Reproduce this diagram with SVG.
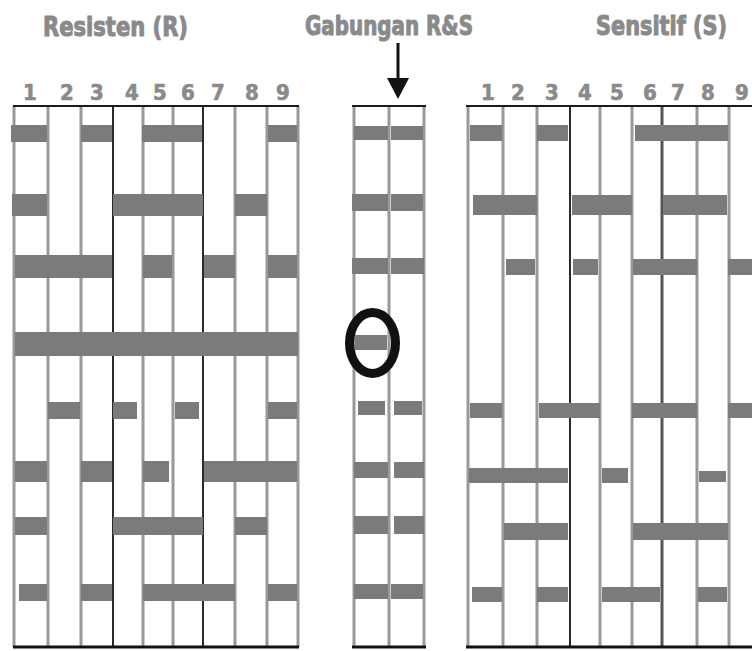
<svg xmlns="http://www.w3.org/2000/svg" width="752" height="651" viewBox="0 0 752 651">
<style>
.bg{fill:#fff}
.lane{stroke:#999;stroke-width:3;fill:none}
.div{stroke:#2a2a2a;stroke-width:2;fill:none}
.edge{stroke:#1a1a1a;stroke-width:2;fill:none}
.bot{stroke:#111;stroke-width:3;fill:none}
.band{fill:#7b7b7b}
.title{font-family:"DejaVu Sans Condensed","Liberation Sans Narrow","Liberation Sans",sans-serif;font-weight:bold;fill:#8a8a8a;stroke:#8a8a8a;stroke-width:1;font-size:26px}
.num{font-family:"DejaVu Sans Condensed","Liberation Sans Narrow","Liberation Sans",sans-serif;font-weight:bold;fill:#8a8a8a;stroke:#8a8a8a;stroke-width:0.6;font-size:22px;text-anchor:middle}
</style>
<rect class="bg" x="0" y="0" width="752" height="651"/>

<g id="titles">
<text class="title" x="43" y="36" textLength="145" lengthAdjust="spacingAndGlyphs">Resisten (R)</text>
<text class="title" x="305" y="35" textLength="168" lengthAdjust="spacingAndGlyphs">Gabungan R&amp;S</text>
<text class="title" x="596" y="35" textLength="131" lengthAdjust="spacingAndGlyphs">Sensitif (S)</text>
</g>

<g id="gel-resisten">
<g class="nums">
<text class="num" x="30" y="100">1</text><text class="num" x="67" y="100">2</text><text class="num" x="97" y="100">3</text>
<text class="num" x="132" y="100">4</text><text class="num" x="160" y="100">5</text><text class="num" x="188" y="100">6</text>
<text class="num" x="218" y="100">7</text><text class="num" x="252" y="100">8</text><text class="num" x="283" y="100">9</text>
</g>
<path class="lane" d="M14 106V647M48 106V647M81 106V647M143 106V647M173 106V647M235 106V647M267 106V647M298 106V647"/>
<path class="div" d="M113 106V647M203 106V647"/>
<path class="edge" d="M13 106H299"/>
<path class="bot" d="M13 647H299"/>
<g class="bands">
<rect class="band" x="11" y="125" width="36" height="17"/><rect class="band" x="81" y="125" width="31" height="17"/><rect class="band" x="142" y="125" width="60" height="17"/><rect class="band" x="268" y="125" width="29" height="17"/>
<rect class="band" x="12" y="194" width="35" height="22"/><rect class="band" x="113" y="194" width="90" height="22"/><rect class="band" x="235" y="194" width="32" height="22"/>
<rect class="band" x="15" y="255" width="97" height="23"/><rect class="band" x="143" y="255" width="29" height="23"/><rect class="band" x="204" y="255" width="31" height="23"/><rect class="band" x="268" y="255" width="29" height="23"/>
<rect class="band" x="15" y="332" width="283" height="24"/>
<rect class="band" x="48" y="402" width="32" height="17"/><rect class="band" x="113" y="402" width="24" height="17"/><rect class="band" x="175" y="402" width="24" height="17"/><rect class="band" x="268" y="402" width="29" height="17"/>
<rect class="band" x="15" y="461" width="32" height="21"/><rect class="band" x="81" y="461" width="31" height="21"/><rect class="band" x="143" y="461" width="26" height="21"/><rect class="band" x="204" y="461" width="93" height="21"/>
<rect class="band" x="15" y="517" width="32" height="18"/><rect class="band" x="113" y="517" width="90" height="18"/><rect class="band" x="235" y="517" width="32" height="18"/>
<rect class="band" x="19" y="584" width="28" height="17"/><rect class="band" x="81" y="584" width="31" height="17"/><rect class="band" x="143" y="584" width="92" height="17"/><rect class="band" x="268" y="584" width="29" height="17"/>
</g>
</g>

<g id="gel-gabungan">
<path class="lane" d="M354 106V647M389 106V647M424 106V647"/>
<path class="edge" d="M352 106H426"/>
<path class="bot" d="M352 647H426"/>
<g class="bands">
<rect class="band" x="354" y="126" width="34" height="14"/><rect class="band" x="391" y="126" width="32" height="14"/>
<rect class="band" x="352" y="194" width="36" height="17"/><rect class="band" x="391" y="194" width="32" height="17"/>
<rect class="band" x="352" y="258" width="36" height="16"/><rect class="band" x="391" y="258" width="33" height="16"/>
<rect class="band" x="355" y="335" width="32" height="15"/>
<rect class="band" x="358" y="401" width="27" height="14"/><rect class="band" x="394" y="401" width="28" height="14"/>
<rect class="band" x="354" y="462" width="34" height="16"/><rect class="band" x="394" y="462" width="30" height="16"/>
<rect class="band" x="354" y="516" width="34" height="18"/><rect class="band" x="394" y="516" width="30" height="18"/>
<rect class="band" x="354" y="584" width="34" height="15"/><rect class="band" x="391" y="584" width="32" height="15"/>
</g>
</g>

<g id="gel-sensitif">
<g class="nums">
<text class="num" x="488" y="100">1</text><text class="num" x="518" y="100">2</text><text class="num" x="552" y="100">3</text>
<text class="num" x="585" y="100">4</text><text class="num" x="617" y="100">5</text><text class="num" x="650" y="100">6</text>
<text class="num" x="678" y="100">7</text><text class="num" x="708" y="100">8</text><text class="num" x="742" y="100">9</text>
</g>
<path class="lane" d="M468 106V647M503 106V647M537 106V647M600 106V647M632 106V647M697 106V647M729 106V647"/>
<path class="div" d="M570 106V647"/>
<path class="lane" style="stroke:#555" d="M662 106V647"/>
<path class="edge" d="M466 106H752"/>
<path class="bot" d="M466 647H752"/>
<g class="bands">
<rect class="band" x="470" y="125" width="32" height="16"/><rect class="band" x="537" y="125" width="31" height="16"/><rect class="band" x="635" y="125" width="93" height="16"/>
<rect class="band" x="473" y="195" width="64" height="20"/><rect class="band" x="572" y="195" width="60" height="20"/><rect class="band" x="663" y="195" width="64" height="20"/>
<rect class="band" x="506" y="259" width="29" height="16"/><rect class="band" x="573" y="259" width="25" height="16"/><rect class="band" x="633" y="259" width="64" height="16"/><rect class="band" x="728" y="259" width="24" height="16"/>
<rect class="band" x="470" y="403" width="32" height="15"/><rect class="band" x="539" y="403" width="61" height="15"/><rect class="band" x="632" y="403" width="65" height="15"/><rect class="band" x="728" y="403" width="24" height="15"/>
<rect class="band" x="469" y="468" width="99" height="15"/><rect class="band" x="602" y="468" width="26" height="15"/><rect class="band" x="699" y="471" width="27" height="11"/>
<rect class="band" x="504" y="523" width="64" height="17"/><rect class="band" x="633" y="523" width="95" height="17"/>
<rect class="band" x="472" y="587" width="30" height="15"/><rect class="band" x="537" y="587" width="31" height="15"/><rect class="band" x="602" y="587" width="58" height="15"/><rect class="band" x="698" y="587" width="29" height="15"/>
</g>
</g>

<g id="connectors">
<path d="M398 43V80" stroke="#111" stroke-width="3" fill="none"/>
<polygon points="387,78 409,78 398,99" fill="#111"/>
</g>

<g id="highlight">
<ellipse cx="372.5" cy="343" rx="23" ry="30.5" fill="none" stroke="#111" stroke-width="9"/>
</g>
</svg>
